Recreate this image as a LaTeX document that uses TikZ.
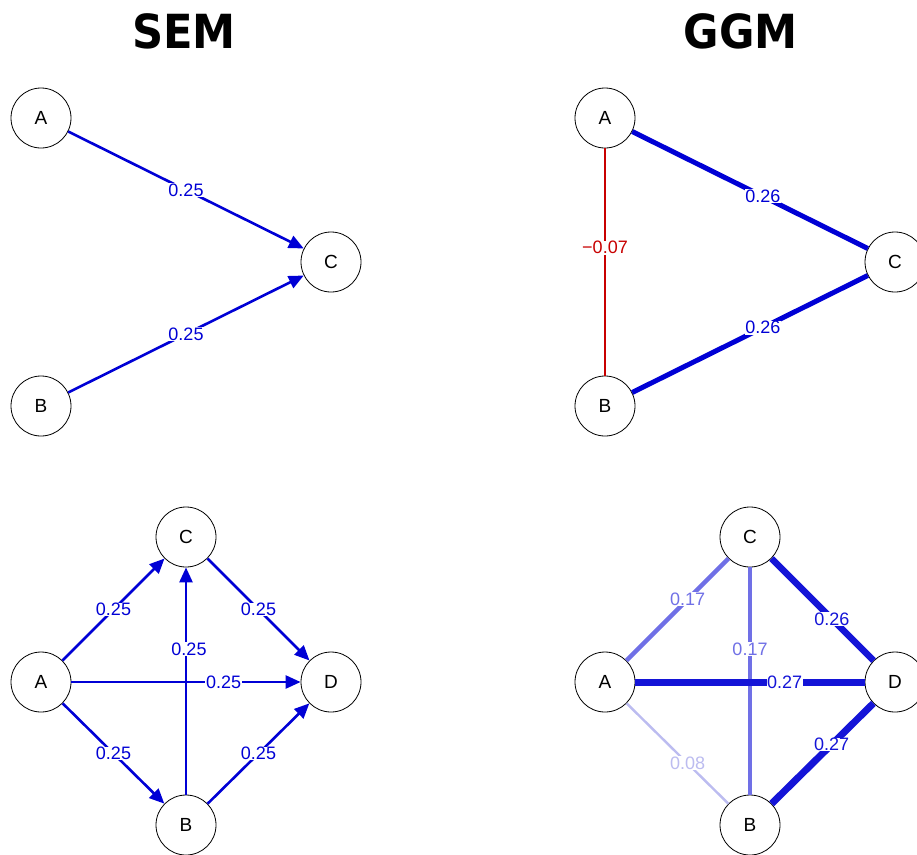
\documentclass[tikz,border=0pt]{standalone}
\usepackage{fontspec}
\setmainfont{Liberation Sans}
\newfontfamily\titlefont{DejaVu Sans}
\usetikzlibrary{arrows.meta}

\definecolor{sempos}{RGB}{0,0,213}
\definecolor{ggmfull}{RGB}{20,20,215}
\definecolor{ggmmid}{RGB}{112,112,230}
\definecolor{ggmlow}{RGB}{188,188,240}
\definecolor{ggmneg}{RGB}{200,0,0}

\newcommand{\headtext}[1]{\scalebox{0.92}[1]{#1}}

\tikzset{
  vertex/.style={circle, draw=black, line width=0.8pt, fill=white,
    minimum size=60pt, inner sep=0pt, font=\fontsize{19}{19}\selectfont},
  heading/.style={font=\titlefont\bfseries\fontsize{47}{47}\selectfont},
  wlabel/.style={fill=white, inner sep=0.6pt, font=\fontsize{18}{18}\selectfont},
  directed/.style={draw=sempos, line width=2.6pt,
    -{Triangle[length=15pt,width=13pt]}},
  undirected/.style={line cap=butt}
}

\begin{document}
\begin{tikzpicture}[x=1pt,y=-1pt]
\useasboundingbox (0,0) rectangle (917,854);

% headings
\node[heading] (tsem) at (184,31) {\headtext{SEM}};
\node[heading] (tggm) at (740.5,31) {\headtext{GGM}};

% ---- SEM, three variables ----
\node[vertex] (sa) at (41,118) {A};
\node[vertex] (sb) at (41,406) {B};
\node[vertex] (sc) at (331,262) {C};
\draw[directed] (sa) -- node[wlabel, text=sempos, pos=0.5] {0.25} (sc);
\draw[directed] (sb) -- node[wlabel, text=sempos, pos=0.5] {0.25} (sc);

% ---- GGM, three variables ----
\node[vertex] (ga) at (605,118) {A};
\node[vertex] (gb) at (605,406) {B};
\node[vertex] (gc) at (895,262) {C};
\draw[undirected, draw=sempos, line width=5pt] (ga) -- node[wlabel, text=sempos, pos=0.555] {0.26} (gc);
\draw[undirected, draw=sempos, line width=5pt] (gb) -- node[wlabel, text=sempos, pos=0.555] {0.26} (gc);
\draw[undirected, draw=ggmneg, line width=1.4pt] (ga) -- node[wlabel, text=ggmneg, pos=0.437] {−0.07} (gb);

% ---- SEM, four variables ----
\node[vertex] (qa) at (41,682) {A};
\node[vertex] (qc) at (186,537) {C};
\node[vertex] (qd) at (331,682) {D};
\node[vertex] (qb) at (186,825) {B};
\draw[directed] (qa) -- node[wlabel, text=sempos, pos=0.5] {0.25} (qc);
\draw[directed] (qc) -- node[wlabel, text=sempos, pos=0.5] {0.25} (qd);
\draw[directed] (qa) -- node[wlabel, text=sempos, pos=0.5] {0.25} (qb);
\draw[directed] (qb) -- node[wlabel, text=sempos, pos=0.5] {0.25} (qd);
\draw[directed] (qb) -- node[wlabel, text=sempos, pos=0.639, xshift=3pt] {0.25} (qc);
\draw[directed] (qa) -- node[wlabel, text=sempos, pos=0.664] {0.25} (qd);

% ---- GGM, four variables ----
\node[vertex] (ra) at (605,682) {A};
\node[vertex] (rc) at (750,537) {C};
\node[vertex] (rd) at (895,682) {D};
\node[vertex] (rb) at (750,825) {B};
\draw[undirected, draw=ggmlow, line width=2.4pt] (ra) -- node[wlabel, text=ggmlow, pos=0.599] {0.08} (rb);
\draw[undirected, draw=ggmmid, line width=4.3pt] (ra) -- node[wlabel, text=ggmmid, pos=0.599] {0.17} (rc);
\draw[undirected, draw=ggmmid, line width=4.3pt] (rc) -- node[wlabel, text=ggmmid, pos=0.361] {0.17} (rb);
\draw[undirected, draw=ggmfull, line width=6.6pt] (rc) -- node[wlabel, text=ggmfull, pos=0.592] {0.26} (rd);
\draw[undirected, draw=ggmfull, line width=7pt] (rb) -- node[wlabel, text=ggmfull, pos=0.59] {0.27} (rd);
\draw[undirected, draw=ggmfull, line width=7pt] (ra) -- node[wlabel, text=ggmfull, pos=0.651] {0.27} (rd);
\end{tikzpicture}
\end{document}
